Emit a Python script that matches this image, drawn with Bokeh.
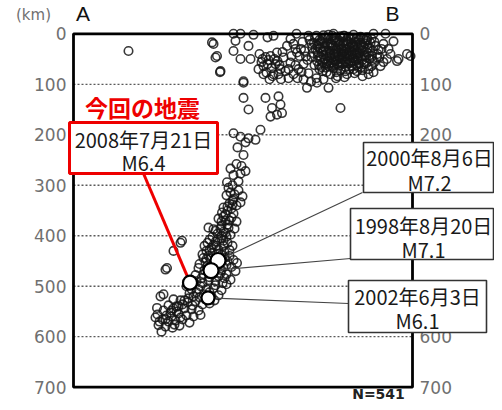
from bokeh.plotting import figure
from bokeh.models import Range1d
from bokeh.core.properties import value
from bokeh.embed import file_html
from bokeh.resources import INLINE

# ---- data (x = distance along A-B profile in km, d = depth in km) ----
pts = [
    # sparse shallow / intermediate outliers
    (110,34),(277,17),(284,47),(293,76),(280,20),(287,44),(294,74),(320,0),(334,0),(324,14),
    (320,34),(334,50),(354,50),(350,24),(388,7),(340,97),(340,127),(340,94),(350,150),(384,127),
    (410,124),(397,147),(414,140),(407,160),(417,157),(394,164),(534,147),(320,197),(334,204),
    (350,207),(374,190),(364,210),(344,215),
    # mid-shallow group
    (380,64),(378,50),(394,44),(407,37),(414,70),(400,80),(434,57),(440,80),(427,24),(434,10),
    (447,37),(370,70),(386,77),(404,60),(420,47),(460,60),(455,30),(372,40),(392,90),(415,90),
    (450,70),(465,45),(430,70),(408,54),(388,60),
    (440,20),(452,44),(444,62),(458,16),(462,34),(456,76),(468,52),(448,88),
    (376,56),(384,46),(396,68),(402,50),(412,62),(424,74),(436,44),(444,30),(398,84),(418,36),
    (430,88),(390,52),(380,80),(410,80),
    # top row
    (360,2),(400,4),(446,0),(470,4),(520,0),(560,2),(600,0),(624,0),(587,7),(540,4),(500,3),(580,10),
    # dense shallow core
    (472,12),(478,28),(476,46),(482,62),(470,78),
    (486,4),(490,20),(488,36),(494,52),(492,70),(486,88),
    (498,10),(502,26),(500,42),(506,58),(498,74),
    (510,2),(514,18),(512,34),(516,48),(510,64),(514,80),
    (522,8),(520,24),(526,38),(524,54),(520,68),(528,84),
    (532,14),(536,30),(530,44),(538,60),(534,72),
    (542,4),(546,20),(540,36),(548,50),(544,66),(542,86),
    (554,10),(552,26),(558,42),(556,56),(552,70),
    (564,16),(562,32),(568,48),(566,62),(562,78),
    (574,6),(576,22),(572,38),(578,52),(576,66),
    (584,12),(588,28),(582,44),(586,58),
    (594,18),(598,34),(592,50),(596,64),
    (604,24),(608,40),(602,56),(616,30),(612,46),
    (495,15),(505,33),(517,27),(527,17),(537,41),(547,29),(557,35),(507,45),(519,57),(529,51),
    (539,23),(549,59),(559,21),(569,27),(579,33),(489,43),(499,57),(509,9),(523,45),(533,5),
    (543,55),(553,47),(563,41),(573,45),(583,19),(493,29),(513,39),(531,63),(551,37),(571,59),
    (585,47),(545,13),(525,31),(505,67),(535,37),(555,19),(565,53),(515,21),(541,45),(561,9),
    (481,18),(487,54),(497,36),(503,50),(511,26),(519,12),(521,40),(527,60),(533,22),(537,50),
    (543,30),(549,16),(551,44),(557,64),(561,28),(567,36),(571,12),(577,44),(581,60),(589,38),
    (479,38),(491,62),(501,18),(509,54),(517,66),(529,34),(539,8),(553,58),(565,22),(575,30),
    (587,14),(597,44),(483,8),(495,46),(507,38),(521,52),(535,58),(545,40),(559,48),(569,66),
    (476,20),(484,30),(492,12),(500,34),(508,20),(514,58),(518,4),(524,14),(530,26),(534,48),
    (540,16),(546,56),(550,6),(554,34),(560,54),(566,10),(570,50),(574,18),(580,26),(586,36),
    (592,28),(596,10),(504,8),(512,46),(522,62),(528,42),(538,32),(548,38),(558,26),(568,40),
    (488,24),(496,66),(506,76),(526,76),(544,74),(560,70),(578,72),(602,16),(610,32),(598,52),
    # right of core
    (467,107),(487,97),(510,107),(547,80),(567,74),(614,64),(627,50),(650,50),(667,40),(607,47),
    (647,54),(674,44),(620,20),(460,90),(475,95),(500,90),(525,88),(590,70),(630,30),(640,15),
    (620,56),(634,40),(600,76),(590,80),(578,84),
    # slab 200-300 km
    (328,225),(340,240),(326,258),(336,262),(314,267),(320,280),(334,277),(344,272),(307,294),
    (318,300),(330,292),
    # slab 300-340 km
    (314,314),(320,327),(306,320),(330,310),(338,322),(312,336),(326,340),(300,344),(318,330),(334,334),
    (310,305),(322,318),(318,338),(308,342),
    # slab 340-400 km
    (297,354),(308,350),(320,356),(290,366),(304,370),(316,364),(326,372),(296,380),(310,384),
    (280,387),(270,384),(322,386),(300,392),(288,396),(314,398),
    (316,346),(304,358),(296,372),(308,378),(284,390),(296,400),(300,362),(312,370),(294,386),
    (304,394),
    # slab 400-460 km
    (217,410),(200,430),(214,414),(272,408),(284,412),(296,406),(308,414),(262,420),(276,424),
    (290,428),(302,432),(318,420),(258,437),(270,440),(284,444),(298,446),(312,440),(327,454),
    (264,452),(252,456),(306,458),(320,448),(290,436),(280,454),
    (278,402),(306,402),(268,414),(280,418),(300,420),(312,428),(266,430),(278,434),(294,452),
    (274,446),(260,444),(308,450),(288,408),(300,410),(272,428),(286,420),(296,438),(266,446),
    (282,450),(302,444),
    # slab 460-520 km
    (187,464),(184,467),(250,464),(262,468),(296,468),(306,476),(324,470),(314,487),(244,478),
    (256,484),(270,488),(284,490),(298,494),(240,492),(226,500),(254,500),(266,506),(280,504),
    (296,508),(306,496),(246,512),(232,514),(260,516),(290,518),(276,520),
    (286,462),(300,462),(316,462),(276,474),(290,480),(302,484),(260,476),(246,490),(236,506),
    (268,460),(282,470),(294,474),(272,482),(258,494),(284,498),(250,506),(272,512),
    # slab 520-590 km
    (174,520),(200,526),(214,528),(228,532),(244,530),(258,536),(272,534),(282,528),(190,538),
    (206,540),(222,544),(236,546),(250,548),(180,548),(194,552),(210,554),(254,557),(168,556),
    (226,558),(170,577),(164,562),(178,566),(190,570),(204,568),(218,566),(232,572),(184,580),
    (198,582),(212,578),(176,590),(240,560),(167,543),(180,516),(214,562),
    (252,522),(264,526),(238,538),(218,536),(206,550),(196,560),(186,558),(200,544),
    (240,520),(230,524),(222,528),(210,540),(196,548),(184,566),(172,570),(202,576),
]
eq_x = [p[0] for p in pts]
eq_d = [p[1] for p in pts]

# notable events
big_line1 = ["2008年7月21日", "2000年8月6日", "1998年8月20日", "2002年6月3日"]
big_line2 = ["M6.4", "M7.2", "M7.1", "M6.1"]
big_x = [233, 289, 275, 269]
big_d = [493, 449, 469, 523]
big_size = [14, 15, 15, 13]

depth_ticks = [0, 100, 200, 300, 400, 500, 600, 700]
grid_ticks = [100, 200, 300, 400, 500, 600]
x_start, x_end = 0, 678
d_top, d_bottom = 0, 700

# ---- layout helpers (canvas pixel -> data units) ----
W, H = 494, 402
FL, FR, FT, FB = 73, 412, 33.3, 386.7
KX = (x_end - x_start) / (FR - FL)
KY = (d_bottom - d_top) / (FB - FT)
def X(px):
    return x_start + (px - FL) * KX
def Y(py):
    return d_top + (py - FT) * KY

p = figure(width=W, height=H, output_backend="svg", toolbar_location=None,
           x_range=Range1d(X(0), X(W)), y_range=Range1d(Y(H), Y(0)),
           min_border=0, background_fill_color="white", border_fill_color="white")
p.outline_line_color = None
p.axis.visible = False
p.grid.visible = False

# grid lines
p.segment(x0=[x_start] * len(grid_ticks), x1=[x_end] * len(grid_ticks), y0=grid_ticks, y1=grid_ticks,
          line_color="#5a5a5a", line_dash="2 2", line_width=1.3)

# tick labels (left and right)
tick_txt = [str(t) for t in depth_ticks]
p.text(x=[X(66)] * len(depth_ticks), y=depth_ticks, text=tick_txt, text_align="right",
       text_baseline="middle", text_font=value("DejaVu Sans"), text_font_size="17px",
       text_color="#707070")
p.text(x=[X(419)] * len(depth_ticks), y=depth_ticks, text=tick_txt, text_align="left",
       text_baseline="middle", text_font=value("DejaVu Sans"), text_font_size="17px",
       text_color="#707070")

# events
p.scatter(eq_x, eq_d, size=8.5, marker="circle", fill_alpha=0,
          line_color="#151515", line_width=1.6, line_alpha=0.85)

# frame
p.quad(left=[x_start], right=[x_end], top=[d_top], bottom=[d_bottom], fill_alpha=0,
       line_color="black", line_width=2.8)

# leader lines: circle -> box anchor
anchor_x = [X(143), X(362), X(350), X(348)]
anchor_d = [Y(173), Y(192), Y(258), Y(303)]
p.segment(x0=big_x[1:], y0=big_d[1:], x1=anchor_x[1:], y1=anchor_d[1:],
          line_color="#444444", line_width=1.2)
p.segment(x0=big_x[:1], y0=big_d[:1], x1=anchor_x[:1], y1=anchor_d[:1],
          line_color="#ee0000", line_width=3)

p.scatter(big_x, big_d, size=big_size, marker="circle", fill_color="white",
          line_color="black", line_width=2.2)

# annotation boxes
bl = [X(69), X(363), X(350), X(348)]
br = [X(217), X(493), X(493), X(486)]
bt = [Y(122), Y(142), Y(208), Y(280)]
bb = [Y(173), Y(192), Y(259), Y(332)]
p.quad(left=bl[1:], right=br[1:], top=bt[1:], bottom=bb[1:], fill_color="white",
       line_color="#333333", line_width=1.6)
p.quad(left=bl[:1], right=br[:1], top=bt[:1], bottom=bb[:1], fill_color="white",
       line_color="#ee0000", line_width=3)

cx = [X(143), X(429), X(423), X(417)]
l1y = [Y(139), Y(157), Y(225), Y(296)]
l2y = [Y(162), Y(182), Y(249), Y(320)]
cjk = value("Noto Sans CJK JP")
p.text(x=cx, y=l1y, text=big_line1, text_align="center", text_baseline="middle",
       text_font=cjk, text_font_size="20px", text_color="#1a1a1a")
p.text(x=cx, y=l2y, text=big_line2, text_align="center", text_baseline="middle",
       text_font=cjk, text_font_size="20px", text_color="#1a1a1a")

p.text(x=[X(142)], y=[Y(106)], text=["今回の地震"], text_align="center", text_baseline="middle",
       text_font=cjk, text_font_size="23px", text_font_style="bold", text_color="#ee0000")

# other texts
p.text(x=[X(33)], y=[Y(14)], text=["(km)"], text_align="center", text_baseline="middle",
       text_font=value("DejaVu Sans"), text_font_size="15px", text_color="#707070")
p.text(x=[X(82.5), X(392)], y=[Y(13), Y(13)], text=["A", "B"], text_align="center",
       text_baseline="middle", text_font=value("Liberation Sans"), text_font_size="21px",
       text_color="#111111")
p.text(x=[X(378)], y=[Y(393)], text=["N=541"], text_align="center", text_baseline="middle",
       text_font=value("DejaVu Sans"), text_font_size="14px", text_font_style="bold",
       text_color="#222222")

open("out.html", "w").write(file_html(p, INLINE))
